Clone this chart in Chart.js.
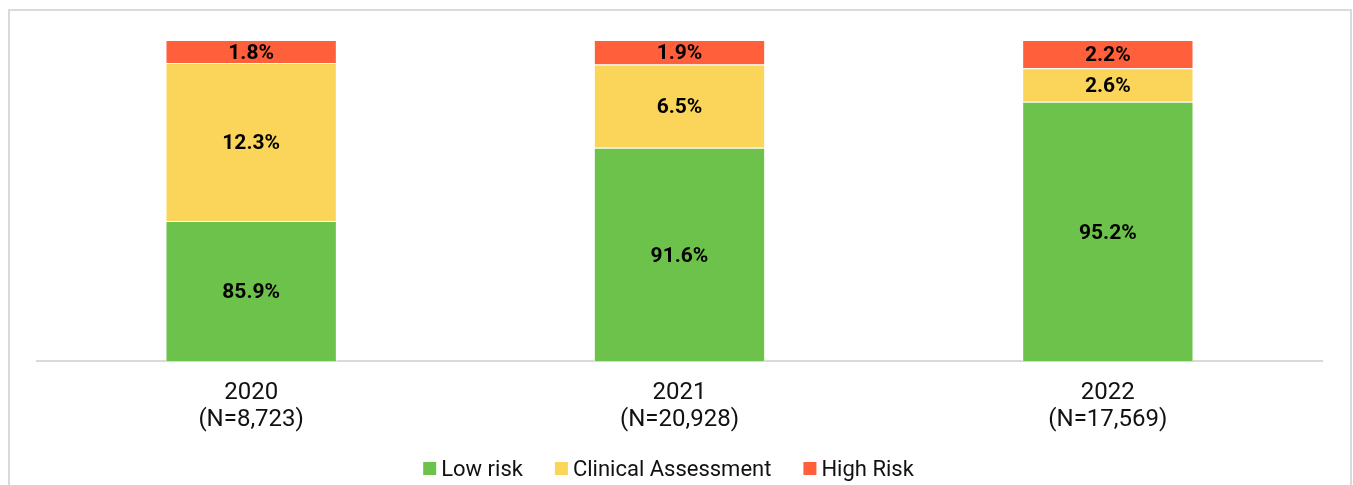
<!DOCTYPE html>
<html lang="en">
<head>
    <meta charset="UTF-8">
    <script src="https://cdn.jsdelivr.net/npm/chart.js"></script>
    <title>Risk levels</title>
    <style>
        body { margin: 0; background: #fff; }
        .container {
            position: absolute; left: 8px; top: 9px;
            width: 1340px; height: 476px;
            border: 2px solid #d9d9d9; border-bottom: none;
        }
    </style>
</head>
<body>
    <div class="container">
        <canvas id="mychart"></canvas>
    </div>

    <script>
        // data
        const years = [["2020", "(N=8,723)"], ["2021", "(N=20,928)"], ["2022", "(N=17,569)"]];
        const lowRisk = [85.9, 91.6, 95.2];
        const clinicalAssessment = [12.3, 6.5, 2.6];
        const highRisk = [1.8, 1.9, 2.2];

        // writes the % in the middle of the visible part of each segment
        const segmentLabels = {
            id: 'segmentLabels',
            afterDatasetsDraw(chart) {
                const ctx = chart.ctx;
                const area = chart.chartArea;
                ctx.save();
                ctx.font = 'bold 21px Roboto';
                ctx.fillStyle = '#000';
                ctx.textAlign = 'center';
                ctx.textBaseline = 'middle';
                chart.data.datasets.forEach((ds, i) => {
                    chart.getDatasetMeta(i).data.forEach((bar, j) => {
                        let top = Math.max(bar.y, area.top);
                        let bottom = Math.min(bar.base, area.bottom);
                        ctx.fillText(ds.data[j].toFixed(1) + '%', bar.x, (top + bottom) / 2 + 2);
                    });
                });
                ctx.restore();
            }
        };

        // small legend drawn by hand so the gaps come out like the original
        const bottomLegend = {
            id: 'bottomLegend',
            afterDraw(chart) {
                const ctx = chart.ctx;
                const area = chart.chartArea;
                const box = 13, gap = 5, spacing = 32;
                ctx.save();
                ctx.font = '22px Roboto';
                ctx.textBaseline = 'middle';
                let items = chart.data.datasets.map(ds => ({
                    text: ds.label, color: ds.backgroundColor, w: ctx.measureText(ds.label).width
                }));
                let total = items.reduce((s, it) => s + box + gap + it.w, 0) + spacing * (items.length - 1);
                let x = (area.left + area.right) / 2 - 11 - total / 2;
                let y = area.bottom + 108;
                items.forEach(it => {
                    ctx.fillStyle = it.color;
                    ctx.fillRect(x, y - 7, box, box);
                    ctx.fillStyle = '#111';
                    ctx.fillText(it.text, x + box + gap, y + 1);
                    x += box + gap + it.w + spacing;
                });
                ctx.restore();
            }
        };

        let mychart = document.getElementById("mychart").getContext('2d');
        let charts = new Chart(mychart, {
            type: 'bar',
            data: {
                labels: years,
                datasets: [
                    { label: 'Low risk', data: lowRisk, backgroundColor: '#6cc24a' },
                    { label: 'Clinical Assessment', data: clinicalAssessment, backgroundColor: '#fbd55a' },
                    { label: 'High Risk', data: highRisk, backgroundColor: '#ff5f3b' }
                ]
            },
            options: {
                responsive: true,
                maintainAspectRatio: false,
                animation: false,
                datasets: {
                    bar: {
                        barPercentage: 0.4,
                        categoryPercentage: 1,
                        borderColor: '#ffffff',
                        borderWidth: 1
                    }
                },
                layout: { padding: { left: 27, right: 28, top: 29, bottom: 44 } },
                plugins: {
                    tooltip: { enabled: false },
                    legend: { display: false }
                },
                scales: {
                    x: {
                        stacked: true,
                        grid: { display: false },
                        border: { display: true, color: '#d9d9d9', width: 2 },
                        ticks: {
                            padding: 10,
                            color: '#111',
                            font: { family: 'Roboto', size: 24, lineHeight: 1.125 }
                        }
                    },
                    y: {
                        stacked: true,
                        display: false,
                        min: 75,
                        max: 100
                    }
                }
            },
            plugins: [segmentLabels, bottomLegend]
        });
    </script>
</body>
</html>
